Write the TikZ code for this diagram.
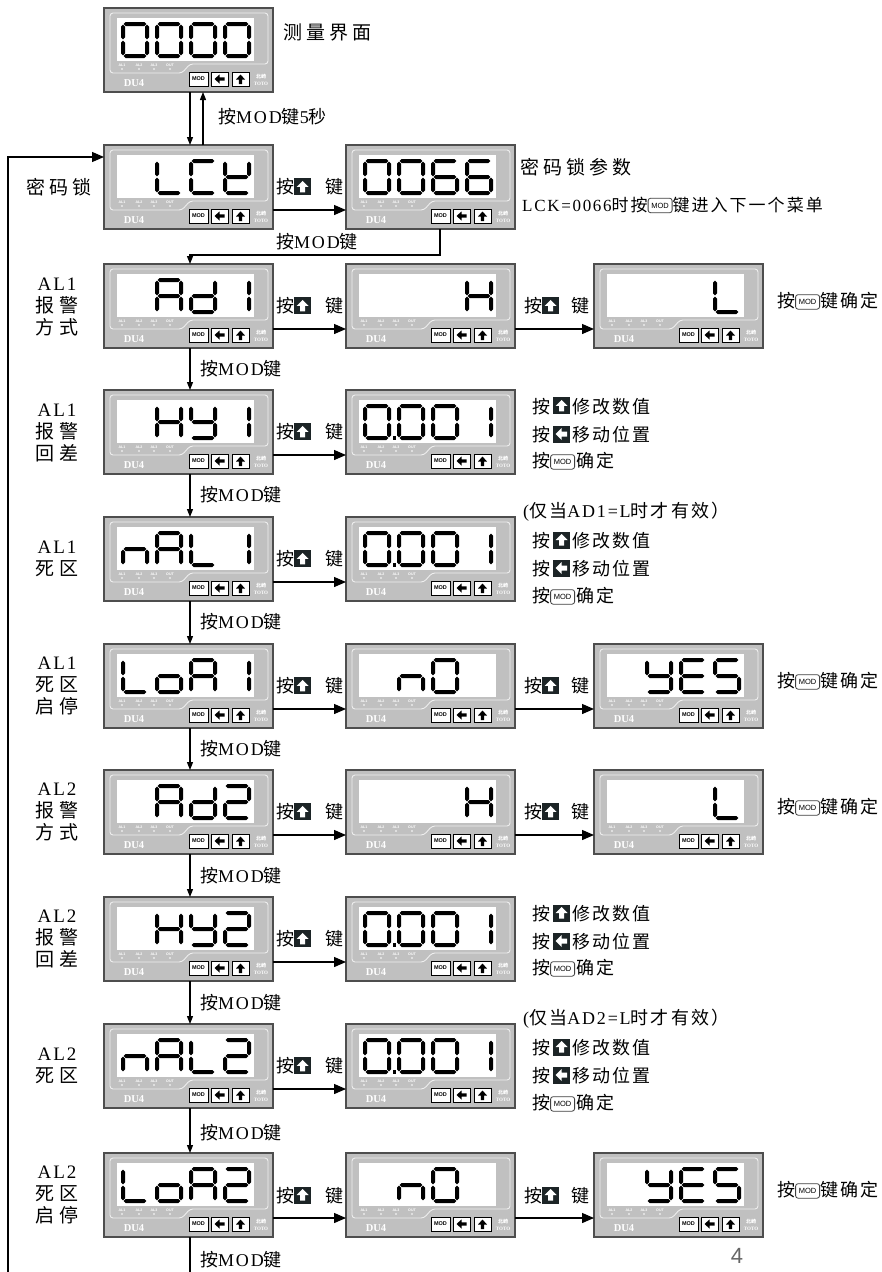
\documentclass[tikz,border=0pt]{standalone}
\usepackage{fontspec}
\usetikzlibrary{arrows.meta}
\setmainfont{Liberation Serif}
\newfontfamily\cjk[LetterSpace=12]{Noto Sans CJK SC}
\newfontfamily\cjkw[LetterSpace=22]{Noto Sans CJK SC}
\newfontfamily\cjkt{Noto Sans CJK SC}
\newfontfamily\latin[LetterSpace=10]{Liberation Serif}
\newfontfamily\sans{Liberation Sans}

\definecolor{panelgray}{RGB}{192,192,192}
\definecolor{paneledge}{RGB}{78,78,78}
\definecolor{bezel}{RGB}{238,238,238}
\definecolor{keydark}{RGB}{28,36,38}

\newcommand\Z[1]{{\cjk #1}}
\newcommand\W[1]{{\cjkw #1}}
\newcommand\M[1]{{\latin #1}}
\newcommand\lbl{\fontsize{18}{22}\selectfont}

% key icons used inside running text
\newcommand\upkey{\tikz[x=1pt,y=1pt,baseline=1.5pt]{\fill[keydark] (0,0) rectangle (17,17);
  \fill[white] (8.5,14.5) -- (14.5,8.5) -- (11,8.5) -- (11,3) -- (6,3) -- (6,8.5) -- (2.5,8.5) -- cycle;}}
\newcommand\leftkey{\tikz[x=1pt,y=1pt,baseline=1.5pt]{\fill[keydark] (0,0) rectangle (17,17);
  \fill[white] (2.5,8.5) -- (8.5,14.5) -- (8.5,11) -- (14,11) -- (14,6) -- (8.5,6) -- (8.5,2.5) -- cycle;}}
\newcommand\modkey{\tikz[x=1pt,y=1pt,baseline=0pt]{\draw[draw=black!75,fill=white,line width=0.8pt,rounded corners=2.5pt] (0,-1.5) rectangle (24,13);
  \node[anchor=center,inner sep=0pt,text=black,font=\sans\fontsize{7.5}{8}\selectfont] at (12,5.75) {MOD};}}

% seven-segment display
\newcommand\hseg[3]{\fill ({#1},{#3}) -- ({#1+2},{#3-2}) -- ({#2-2},{#3-2}) -- ({#2},{#3}) -- ({#2-2},{#3+2}) -- ({#1+2},{#3+2}) -- cycle;}
\newcommand\vseg[3]{\fill ({#1},{#2}) -- ({#1+2},{#2+2}) -- ({#1+2},{#3-2}) -- ({#1},{#3}) -- ({#1-2},{#3-2}) -- ({#1-2},{#2+2}) -- cycle;}
\newcommand\segXa{\hseg{\dL+2.6}{\dL+25.4}{16}}
\newcommand\segXb{\vseg{\dL+26}{16.6}{31.4}}
\newcommand\segXc{\vseg{\dL+26}{32.6}{47.4}}
\newcommand\segXd{\hseg{\dL+2.6}{\dL+25.4}{48}}
\newcommand\segXe{\vseg{\dL+2}{32.6}{47.4}}
\newcommand\segXf{\vseg{\dL+2}{16.6}{31.4}}
\newcommand\segXg{\hseg{\dL+2.6}{\dL+25.4}{32}}
\newcommand\dig[2]{\pgfmathsetmacro\dL{17+34*#1}\foreach \sg in {#2}{\csname segX\sg\endcsname}}
\newcommand\dpt[1]{\pgfmathsetmacro\dL{17+34*#1}\fill ({\dL+29.5},46) rectangle ({\dL+33},50);}
\newcommand\sgZero[1]{\dig{#1}{a,b,c,d,e,f}}
\newcommand\sgOne[1]{\dig{#1}{b,c}}
\newcommand\sgTwo[1]{\dig{#1}{a,b,d,e,g}}
\newcommand\sgSix[1]{\dig{#1}{a,c,d,e,f,g}}
\newcommand\sgA[1]{\dig{#1}{a,b,c,e,f,g}}
\newcommand\sgC[1]{\dig{#1}{a,d,e,f}}
\newcommand\sgd[1]{\dig{#1}{b,c,d,e,g}}
\newcommand\sgE[1]{\dig{#1}{a,d,e,f,g}}
\newcommand\sgH[1]{\dig{#1}{b,c,e,f,g}}
\newcommand\sgK[1]{\dig{#1}{b,d,e,f,g}}
\newcommand\sgL[1]{\dig{#1}{d,e,f}}
\newcommand\sgn[1]{\dig{#1}{c,e,g}}
\newcommand\sgo[1]{\dig{#1}{c,d,e,g}}
\newcommand\sgS[1]{\dig{#1}{a,c,d,f,g}}
\newcommand\sgY[1]{\dig{#1}{b,c,d,f,g}}
\newcommand\sgPoint{\sgZero0\dpt0\sgZero1\sgZero2\sgOne3}

% DU4 front panel: name, left x, top y, display contents
\newcommand\devpanel[4]{%
\begin{scope}[shift={(#2,#3)}]
  \node[panelbox] (#1) at (0,0) {};
  \draw[bezelline] (6,5) -- (164,5) -- (164,56) -- (86,56) -- (78,65) -- (6,65) -- cycle;
  \fill[white] (13,10) rectangle (150,53);
  \foreach \lx/\lt in {18/AL1,35/AL2,50/AL3,66/OUT}{%
    \node[ledtag] at (\lx,56.8) {\lt};
    \fill[white] (\lx,61) circle (0.9);}
  \node[modeltag] at (30,75) {DU4};
  \draw[keycap] (85,64) rectangle (104,78);
  \node[modtag] at (94.5,71) {MOD};
  \draw[keycap] (107,64) rectangle (124,78);
  \fill (110.5,71) -- (115.5,66.5) -- (115.5,69.3) -- (120.5,69.3) -- (120.5,72.7) -- (115.5,72.7) -- (115.5,75.5) -- cycle;
  \draw[keycap] (128,64) rectangle (145,78);
  \fill (136.5,66.5) -- (141,71.5) -- (138.2,71.5) -- (138.2,76) -- (134.8,76) -- (134.8,71.5) -- (132,71.5) -- cycle;
  \node[brandtag] at (157,68.3) {\cjkt 北崎};
  \node[brandtag] at (157,75.5) {TOTO};
  #4
\end{scope}}

\newcommand\editnote[4]{% x, then the y of each of the three lines
  \node[txt] at (#1,#2) {\Z{按}\hspace{3pt}\upkey\hspace{2pt}\Z{修改数值}};
  \node[txt] at (#1,#3) {\Z{按}\hspace{3pt}\leftkey\hspace{2pt}\Z{移动位置}};
  \node[txt] at (#1,#4) {\Z{按}\modkey\hspace{1pt}\Z{确定}};}

\begin{document}
\begin{tikzpicture}[x=1pt,y=-1pt,
  panelbox/.style={draw=paneledge,fill=panelgray,line width=1.2pt,minimum width=169pt,minimum height=84pt,inner sep=0pt,outer sep=0pt,anchor=north west},
  bezelline/.style={draw=bezel,line width=0.9pt,rounded corners=3pt},
  ledtag/.style={text=white,font=\sans\bfseries\fontsize{3.6}{4}\selectfont,inner sep=0pt},
  modeltag/.style={text=white,font=\bfseries\fontsize{10.5}{11}\selectfont,inner sep=0pt},
  keycap/.style={draw=black,fill=white,line width=0.8pt},
  modtag/.style={font=\sans\bfseries\fontsize{5.5}{6}\selectfont,inner sep=0pt},
  brandtag/.style={text=white,font=\bfseries\fontsize{5}{5}\selectfont,inner sep=0pt},
  wire/.style={line width=1.3pt},
  bigarrow/.style={wire,-{Triangle[length=12pt,width=10pt]}},
  smallarrow/.style={wire,-{Triangle[length=8pt,width=6pt]}},
  txt/.style={font=\lbl,inner sep=0pt,anchor=west},
  side/.style={font=\fontsize{19}{22}\selectfont,inner sep=0pt,align=center,anchor=center}]
\useasboundingbox (0,0) rectangle (882,1272);
\fill[white] (0,0) rectangle (882,1272);

% ---- panels ----
\devpanel{top}{104}{8}{\sgZero0\sgZero1\sgZero2\sgZero3}
\devpanel{lck}{104}{145}{\sgL1\sgC2\sgK3}
\devpanel{pw}{346}{145}{\sgZero0\sgZero1\sgSix2\sgSix3}
\devpanel{ad1}{104}{264}{\sgA1\sgd2\sgOne3}
\devpanel{ad1h}{346}{264}{\sgH3}
\devpanel{ad1l}{594}{264}{\sgL3}
\devpanel{hy1}{104}{390}{\sgH1\sgY2\sgOne3}
\devpanel{hy1v}{346}{390}{\sgPoint}
\devpanel{nal1}{104}{517}{\sgn0\sgA1\sgL2\sgOne3}
\devpanel{nal1v}{346}{517}{\sgPoint}
\devpanel{loa1}{104}{644}{\sgL0\sgo1\sgA2\sgOne3}
\devpanel{loa1n}{346}{644}{\sgn1\sgZero2}
\devpanel{loa1y}{594}{644}{\sgY1\sgE2\sgS3}
\devpanel{ad2}{104}{770}{\sgA1\sgd2\sgTwo3}
\devpanel{ad2h}{346}{770}{\sgH3}
\devpanel{ad2l}{594}{770}{\sgL3}
\devpanel{hy2}{104}{897}{\sgH1\sgY2\sgTwo3}
\devpanel{hy2v}{346}{897}{\sgPoint}
\devpanel{nal2}{104}{1024}{\sgn0\sgA1\sgL2\sgTwo3}
\devpanel{nal2v}{346}{1024}{\sgPoint}
\devpanel{loa2}{104}{1153}{\sgL0\sgo1\sgA2\sgTwo3}
\devpanel{loa2n}{346}{1153}{\sgn1\sgZero2}
\devpanel{loa2y}{594}{1153}{\sgY1\sgE2\sgS3}

% ---- connectors ----
\draw[smallarrow] ([xshift=1.5pt]top.south) -- ([xshift=1.5pt]lck.north);
\draw[smallarrow] ([xshift=14.5pt]lck.north) -- ([xshift=14.5pt]top.south);
\coordinate (loopfoot) at (8,1272);
\draw[bigarrow] (loopfoot) |- ([yshift=30pt]lck.west);
\draw[bigarrow] ([yshift=-23pt]lck.east) -- ([yshift=-23pt]pw.west);
\draw[smallarrow] ([xshift=9.5pt]pw.south) -- ++(0,26) -| ([xshift=1.5pt]ad1.north);
\foreach \a/\b in {ad1/hy1,hy1/nal1,nal1/loa1,loa1/ad2,ad2/hy2,hy2/nal2,nal2/loa2}
  \draw[smallarrow] ([xshift=1.5pt]\a.south) -- ([xshift=1.5pt]\b.north);
\coordinate (tailfoot) at (190,1272);
\draw[wire] ([xshift=1.5pt]loa2.south) -- (tailfoot);
\foreach \a/\b in {ad1/ad1h,ad1h/ad1l,hy1/hy1v,nal1/nal1v,loa1/loa1n,loa1n/loa1y,
                   ad2/ad2h,ad2h/ad2l,hy2/hy2v,nal2/nal2v,loa2/loa2n,loa2n/loa2y}
  \draw[bigarrow] ([yshift=-23pt]\a.east) -- ([yshift=-23pt]\b.west);

% ---- key labels on the connectors ----
\node[txt,font=\fontsize{19}{22}\selectfont] at (283,32) {\W{测量界面}};
\node[txt] at (218,117) {\Z{按}\M{MOD}\Z{键}\M{5}\Z{秒}};
\node[txt] at (276,242) {\Z{按}\M{MOD}\Z{键}};
\foreach \yy in {369,495,622,749,876,1003,1133,1260}
  \node[txt] at (200,\yy) {\Z{按}\M{MOD}\Z{键}};
\foreach \yy in {187,306,432,559,686,812,939,1066,1195}
  \node[txt] at (276,\yy) {\Z{按}\upkey\hspace{14pt}\Z{键}};
\foreach \yy in {306,686,812,1195}
  \node[txt] at (524,\yy) {\Z{按}\upkey\hspace{12pt}\Z{键}};

% ---- notes on the right ----
\node[txt,font=\fontsize{19}{22}\selectfont] at (520,167) {\W{密码锁参数}};
\node[txt,font=\fontsize{17}{20}\selectfont] at (522,205) {\M{LCK=0066}\Z{时按}\modkey\Z{键进入下一个菜单}};
\foreach \yy in {301,681,807,1190}
  \node[txt] at (777,\yy) {\Z{按}\modkey\Z{键确定}};
\editnote{532}{406}{434}{461}
\node[txt] at (523,512) {\M{(}\Z{仅当}\M{AD1=L}\Z{时才有效）}};
\editnote{532}{540}{568}{596}
\editnote{532}{913}{941}{968}
\node[txt] at (523,1019) {\M{(}\Z{仅当}\M{AD2=L}\Z{时才有效）}};
\editnote{532}{1047}{1075}{1103}

% ---- row titles on the left ----
\node[side] at (59,187) {\W{密码锁}};
\node[side] at (57,307) {\M{AL1}\\\W{报警}\\\W{方式}};
\node[side] at (57,433) {\M{AL1}\\\W{报警}\\\W{回差}};
\node[side] at (57,559) {\M{AL1}\\\W{死区}};
\node[side] at (57,686) {\M{AL1}\\\W{死区}\\\W{启停}};
\node[side] at (57,812) {\M{AL2}\\\W{报警}\\\W{方式}};
\node[side] at (57,939) {\M{AL2}\\\W{报警}\\\W{回差}};
\node[side] at (57,1066) {\M{AL2}\\\W{死区}};
\node[side] at (57,1195) {\M{AL2}\\\W{死区}\\\W{启停}};

% page number
\node[font=\sans\fontsize{22}{22}\selectfont,text=black!60,inner sep=0pt,anchor=north] at (737,1248) {4};
\end{tikzpicture}
\end{document}
